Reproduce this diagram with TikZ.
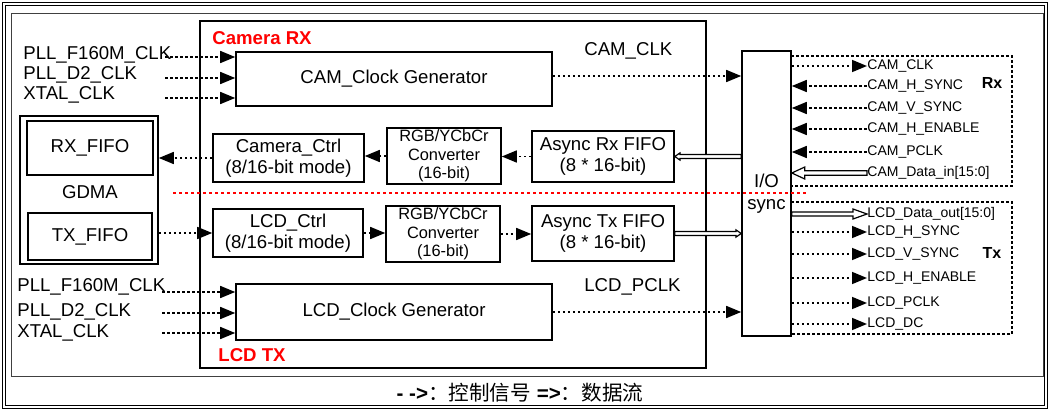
\documentclass[tikz,border=0pt]{standalone}
\usepackage{fontspec}
\setmainfont{Liberation Sans}
\newfontfamily\cjk{Noto Sans CJK SC}
\usetikzlibrary{arrows.meta,calc}
\newcommand\fsmain{\fontsize{9.3}{10.5}\selectfont}
\newcommand\fsrgb{\fontsize{8.2}{9.3}\selectfont}
\newcommand\fssmall{\fontsize{7}{8}\selectfont}
\newcommand\fscap{\fontsize{10.3}{12}\selectfont}
\newcommand\hollowarrow[5]{%
  \coordinate (hahead) at ($(#2)!#5!(#1)$);
  \draw[line width=0.6pt, fill=white, line join=miter]
    ($(#1)!#3!90:(#2)$) -- ($(hahead)!#3!90:(#2)$) -- ($(hahead)!#4!90:(#2)$) -- (#2)
    -- ($(hahead)!#4!-90:(#2)$) -- ($(hahead)!#3!-90:(#2)$) -- ($(#1)!#3!-90:(#2)$) -- cycle;
}
\tikzset{
  box/.style={draw, line width=0.8pt, inner sep=0pt, align=center, font=\fsmain},
  lbl/.style={inner sep=0pt, font=\fsmain},
  slbl/.style={inner sep=0pt, anchor=west, font=\fssmall},
  sig/.style={line width=0.8pt, dash pattern=on 1.3pt off 1.2pt, -{Triangle[length=7.5pt,width=6pt]}},
  grp/.style={line width=0.75pt, dash pattern=on 1.3pt off 1.2pt},
  redlbl/.style={inner sep=0pt, anchor=west, text=red, font=\bfseries\fsmain},
}
\begin{document}
\begin{tikzpicture}[x=0.5pt, y=-0.5pt]
\useasboundingbox (0,0) rectangle (1050,412);
% frames
\draw[line width=0.8pt] (2.5,2.5) rectangle (1047.5,408.5);
\draw[line width=0.6pt] (5.4,5.4) rectangle (1044.6,405.6);
\draw[line width=0.5pt, black!75] (11,13) rectangle (1043,376);
% containers
\node[box, minimum width=253pt, minimum height=173.5pt] (camrx) at (453,194.5) {};
\node[redlbl] (camrxl) at (212,38) {Camera RX};
\node[redlbl] (lcdtxl) at (218,355) {LCD TX};
% GDMA
\node[box, minimum width=69pt, minimum height=74pt] (gdma) at (89,190) {};
\node[box, minimum width=63pt, minimum height=27pt] (rxfifo) at (90,148) {RX\_FIFO};
\node[box, minimum width=62pt, minimum height=23.5pt] (txfifo) at (90,236.5) {TX\_FIFO};
\node[lbl] (gdmal) at (90,192) {GDMA};
% clock generators
\node[box, minimum width=158pt, minimum height=27pt] (cgen) at (394,79) {CAM\_Clock Generator};
\node[box, minimum width=158pt, minimum height=28pt] (lgen) at (394,312) {LCD\_Clock Generator};
% ctrl chain
\node[box, minimum width=75.5pt, minimum height=24pt] (camctrl) at (288.5,158) {Camera\_Ctrl\\(8/16-bit mode)};
\node[box, minimum width=75pt, minimum height=24pt] (lcdctrl) at (288,233) {LCD\_Ctrl\\(8/16-bit mode)};
\node[box, font=\fsrgb, minimum width=57pt, minimum height=28pt] (rgb1) at (444,156) {RGB/YCbCr\\Converter\\(16-bit)};
\node[box, font=\fsrgb, minimum width=57pt, minimum height=28pt] (rgb2) at (443,234) {RGB/YCbCr\\Converter\\(16-bit)};
\node[box, minimum width=71pt, minimum height=25.5pt] (arxf) at (603,156.5) {Async Rx FIFO\\(8 * 16-bit)};
\node[box, minimum width=71pt, minimum height=27.5pt] (atxf) at (603,233.5) {Async Tx FIFO\\(8 * 16-bit)};
% IO sync
\node[box, minimum width=24.5pt, minimum height=142.5pt] (io) at (766.5,193.5) {};
\node[lbl, align=center, font=\fontsize{9.3}{11}\selectfont] (iol) at (766.5,194) {I/O\\sync};
% clock labels
\node[lbl, anchor=west] (camclkl) at (584,51) {CAM\_CLK};
\node[lbl, anchor=west] (lcdpclkl) at (584,287) {LCD\_PCLK};
% left inputs
\node[lbl, anchor=west] (l1) at (23,55) {PLL\_F160M\_CLK};
\node[lbl, anchor=west] (l2) at (23,75) {PLL\_D2\_CLK};
\node[lbl, anchor=west] (l3) at (23,95) {XTAL\_CLK};
\node[lbl, anchor=west] (l4) at (17,287) {PLL\_F160M\_CLK};
\node[lbl, anchor=west] (l5) at (17,312) {PLL\_D2\_CLK};
\node[lbl, anchor=west] (l6) at (17,333) {XTAL\_CLK};
\coordinate (s1) at (165,57);
\coordinate (s2) at (165,78);
\coordinate (s3) at (165,98);
\coordinate (s4) at (162,292);
\coordinate (s5) at (162,313);
\coordinate (s6) at (162,333);
\foreach \s in {s1,s2,s3} \draw[sig] (\s) -- (\s -| cgen.west);
\foreach \s in {s4,s5,s6} \draw[sig] (\s) -- (\s -| lgen.west);
% internal connectors
\coordinate (cgenout) at ([yshift=1.5pt]cgen.east);
\draw[sig] (cgenout) -- (io.west |- cgenout);
\draw[sig] (lgen.east) -- (io.west |- lgen.east);
\draw[sig] (arxf.west) -- (rgb1.east |- arxf.west);
\draw[sig] (rgb1.west) -- (camctrl.east |- rgb1.west);
\draw[sig] (camctrl.west) -- (gdma.east |- camctrl.west);
\draw[sig] (gdma.east |- lcdctrl.west) -- (lcdctrl.west);
\draw[sig] (lcdctrl.east) -- (rgb2.west |- lcdctrl.east);
\draw[sig] (rgb2.east) -- (atxf.west |- rgb2.east);
\coordinate (iorx) at (io.west |- arxf.east);
\hollowarrow{iorx}{arxf.east}{1pt}{1.8pt}{2.6pt}
\coordinate (iotx) at (io.west |- atxf.east);
\hollowarrow{atxf.east}{iotx}{1pt}{1.8pt}{2.6pt}
% red separator
\draw[red, line width=0.6pt, dash pattern=on 1.5pt off 1.5pt] (173,193) -- (808,193);
% Rx group
\draw[grp] (791,56) -- (1012,56) -- (1012,186) -- (791,186);
\node[inner sep=0pt, font=\bfseries\fontsize{8}{9}\selectfont] (rxl) at (992,83) {Rx};
\node[slbl] (r1) at (867,66) {CAM\_CLK};
\node[slbl] (r2) at (867,86) {CAM\_H\_SYNC};
\node[slbl] (r3) at (867,108) {CAM\_V\_SYNC};
\node[slbl] (r4) at (867,129) {CAM\_H\_ENABLE};
\node[slbl] (r5) at (867,152) {CAM\_PCLK};
\node[slbl] (r6) at (867,173) {CAM\_Data\_in[15:0]};
\draw[sig] (io.east |- r1.west) -- (r1.west);
\foreach \r in {r2,r3,r4,r5} \draw[sig] (\r.west) -- (io.east |- \r.west);
\coordinate (iodin) at (io.east |- r6.west);
\hollowarrow{r6.west}{iodin}{1.15pt}{3pt}{6.5pt}
% Tx group
\draw[grp] (791,202) -- (1012,202) -- (1012,334) -- (791,334);
\node[inner sep=0pt, font=\bfseries\fontsize{8}{9}\selectfont] (txl) at (992,253) {Tx};
\node[slbl] (t1) at (867,214) {LCD\_Data\_out[15:0]};
\node[slbl] (t2) at (867,232) {LCD\_H\_SYNC};
\node[slbl] (t3) at (867,254) {LCD\_V\_SYNC};
\node[slbl] (t4) at (867,278) {LCD\_H\_ENABLE};
\node[slbl] (t5) at (867,303) {LCD\_PCLK};
\node[slbl] (t6) at (867,324) {LCD\_DC};
\coordinate (iodout) at (io.east |- t1.west);
\hollowarrow{iodout}{t1.west}{1pt}{2.5pt}{7pt}
\foreach \t in {t2,t3,t4,t5,t6} \draw[sig] (io.east |- \t.west) -- (\t.west);
% caption
\node[inner sep=0pt, font=\fscap] (cap) at (520,393) {\textbf{- ->}{\cjk ：控制信号} \textbf{=>}{\cjk ：数据流}};
\end{tikzpicture}
\end{document}
